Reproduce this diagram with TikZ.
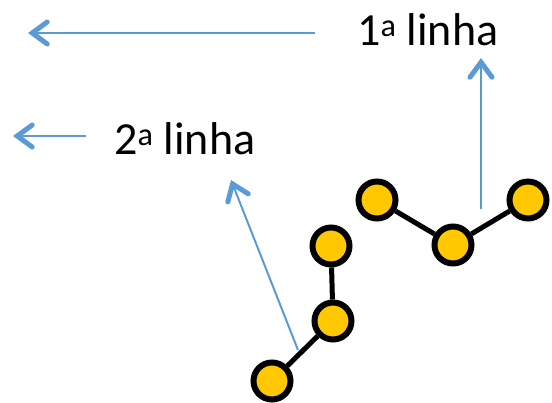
\documentclass[tikz,border=0pt]{standalone}
\usepackage{fontspec}
\setmainfont{Carlito}
\usetikzlibrary{arrows.meta}
\definecolor{arrowblue}{HTML}{5B9BD5}
\definecolor{dotyellow}{HTML}{FFC800}
\begin{document}
\begin{tikzpicture}[x=1pt,y=-1pt,
  dot/.style={circle,draw=black,fill=dotyellow,line width=6pt,minimum size=37pt,inner sep=0pt},
  bond/.style={draw=black,line width=5pt},
  pointer/.style={draw=arrowblue,line width=2pt,-{Straight Barb[length=15pt,width=22pt,line width=5pt,line cap=round]}},
  lbl/.style={inner sep=0pt,anchor=base west,font=\fontsize{46}{50}\selectfont}
]
\useasboundingbox (0,0) rectangle (552,403);
% labels
\node[lbl] (l1) at (357,46) {1\textsuperscript{a} linha};
\node[lbl] (l2) at (114,155) {2\textsuperscript{a} linha};
% arrow endpoints
\coordinate (a1s) at (315,33);
\coordinate (a1e) at (28,33);
\coordinate (a2s) at (86,136);
\coordinate (a2e) at (13,136);
\coordinate (a3s) at (481,209);
\coordinate (a3e) at (481,58);
\coordinate (a4s) at (298,350);
\coordinate (a4e) at (231,180);
\draw[pointer] (a1s) -- (a1e);
\draw[pointer] (a2s) -- (a2e);
\draw[pointer] (a3s) -- (a3e);
\draw[pointer] (a4s) -- (a4e);
% molecule nodes
\node[dot] (r1) at (377,200) {};
\node[dot] (r2) at (453,245) {};
\node[dot] (r3) at (528,200) {};
\node[dot] (s1) at (331,246) {};
\node[dot] (s2) at (333,321) {};
\node[dot] (s3) at (272,381) {};
\draw[bond] (r1) -- (r2);
\draw[bond] (r2) -- (r3);
\draw[bond] (s1) -- (s2);
\draw[bond] (s2) -- (s3);
\end{tikzpicture}
\end{document}
